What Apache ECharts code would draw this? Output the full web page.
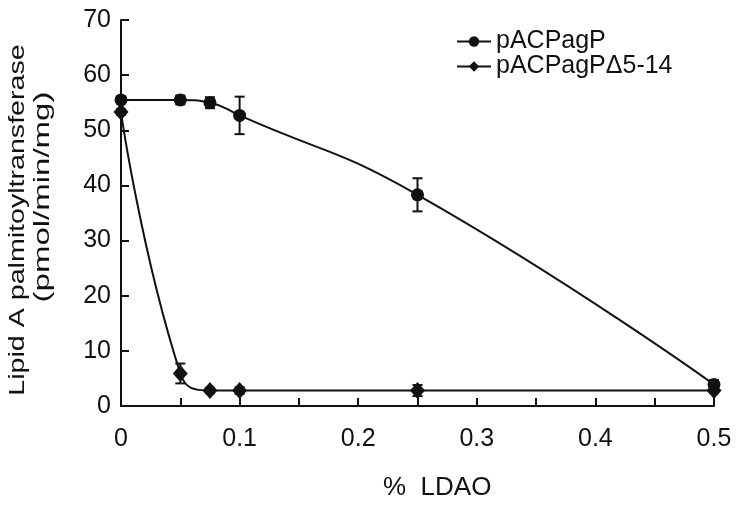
<!DOCTYPE html>
<html><head><meta charset="utf-8">
<script src="https://cdn.jsdelivr.net/npm/echarts@6/dist/echarts.min.js"></script>
<style>html,body{margin:0;padding:0;background:#fff}#c{width:748px;height:506px}</style>
</head><body><div id="c"></div>
<script>
var ldao = [0, 0.05, 0.075, 0.1, 0.25, 0.5];
var wtName = 'pACPagP';
var mutName = 'pACPagP\u03945-14';
var wtValues = [55.5, 55.5, 55.0, 52.7, 38.3, 3.9];
var wtErr = [0.6, 0.8, 1.0, 3.4, 3.0, 0.8];
var mutValues = [53.3, 5.9, 2.8, 2.8, 2.8, 2.8];
var mutErr = [0.5, 1.8, 0.5, 0.6, 1.0, 0.4];
var yTicks = [0, 10, 20, 30, 40, 50, 60, 70];
var yTitle1 = 'Lipid A palmitoyltransferase';
var yTitle2 = '(pmol/min/mg)';
var xTitle = '%  LDAO';

function pairs(xs, ys){ return xs.map(function(x,i){return [x, ys[i]];}); }
function errData(xs, ys, es){ return xs.map(function(x,i){return [x, ys[i]-es[i], ys[i]+es[i]];}); }

var ink = '#111111';
function errRender(params, api){
  var lo = api.coord([api.value(0), api.value(1)]);
  var hi = api.coord([api.value(0), api.value(2)]);
  var w = 5;
  var st = {stroke:ink, lineWidth:2};
  return {type:'group', children:[
    {type:'line', shape:{x1:lo[0],y1:lo[1],x2:hi[0],y2:hi[1]}, style:st},
    {type:'line', shape:{x1:lo[0]-w,y1:lo[1],x2:lo[0]+w,y2:lo[1]}, style:st},
    {type:'line', shape:{x1:hi[0]-w,y1:hi[1],x2:hi[0]+w,y2:hi[1]}, style:st}
  ]};
}

var font = 'Liberation Sans, Arial, Helvetica, sans-serif';
var chart = echarts.init(document.getElementById('c'), null, {renderer:'canvas'});
chart.setOption({
  animation:false,
  grid:{left:121, right:34, top:20, bottom:100, containLabel:false},
  legend:{
    data:[wtName, mutName], orient:'vertical', left:451, top:24,
    itemWidth:34, itemHeight:13, itemGap:0,
    textStyle:{fontFamily:font, fontSize:25, lineHeight:23, color:ink}
  },
  graphic:[
    {type:'text', x:18, y:220, rotation:Math.PI/2, scaleX:1.3, scaleY:1,
      style:{text:yTitle1, fontFamily:font, fontSize:22, fill:ink, textAlign:'center', textVerticalAlign:'middle'}},
    {type:'text', x:43, y:197, rotation:Math.PI/2, scaleX:1.5, scaleY:1,
      style:{text:yTitle2, fontFamily:font, fontSize:22, fill:ink, textAlign:'center', textVerticalAlign:'middle'}},
    {type:'text', x:383, y:488,
      style:{text:xTitle, fontFamily:font, fontSize:26, fill:ink, textAlign:'left', textVerticalAlign:'middle'}}
  ],
  xAxis:{
    type:'value', min:0, max:0.5, interval:0.05,
    axisLine:{lineStyle:{color:ink, width:2}},
    axisTick:{inside:true, length:8, lineStyle:{color:ink, width:2}},
    splitLine:{show:false},
    axisLabel:{fontFamily:font, fontSize:25, color:ink, margin:21,
      formatter:function(v){ var r=Math.round(v*100); return (r%10===0)? String(r/100) : ''; }}
  },
  yAxis:{
    type:'value', min:yTicks[0], max:yTicks[yTicks.length-1], interval:10,
    axisLine:{lineStyle:{color:ink, width:2}},
    axisTick:{inside:true, length:8, lineStyle:{color:ink, width:2}},
    splitLine:{show:false},
    axisLabel:{fontFamily:font, fontSize:25, color:ink, margin:10}
  },
  series:[
    {type:'custom', name:'errWt', renderItem:errRender, data:errData(ldao, wtValues, wtErr), z:1, silent:true},
    {type:'custom', name:'errMut', renderItem:errRender, data:errData(ldao, mutValues, mutErr), z:1, silent:true},
    {type:'line', name:wtName, data:pairs(ldao, wtValues), smooth:0.5,
      symbol:'circle', symbolSize:13, z:3,
      lineStyle:{color:ink, width:2}, itemStyle:{color:ink}},
    {type:'line', name:mutName, data:pairs(ldao, mutValues), smooth:0.5,
      symbol:'diamond', symbolSize:[15,17], z:3,
      lineStyle:{color:ink, width:2}, itemStyle:{color:ink}}
  ]
});
</script></body></html>
